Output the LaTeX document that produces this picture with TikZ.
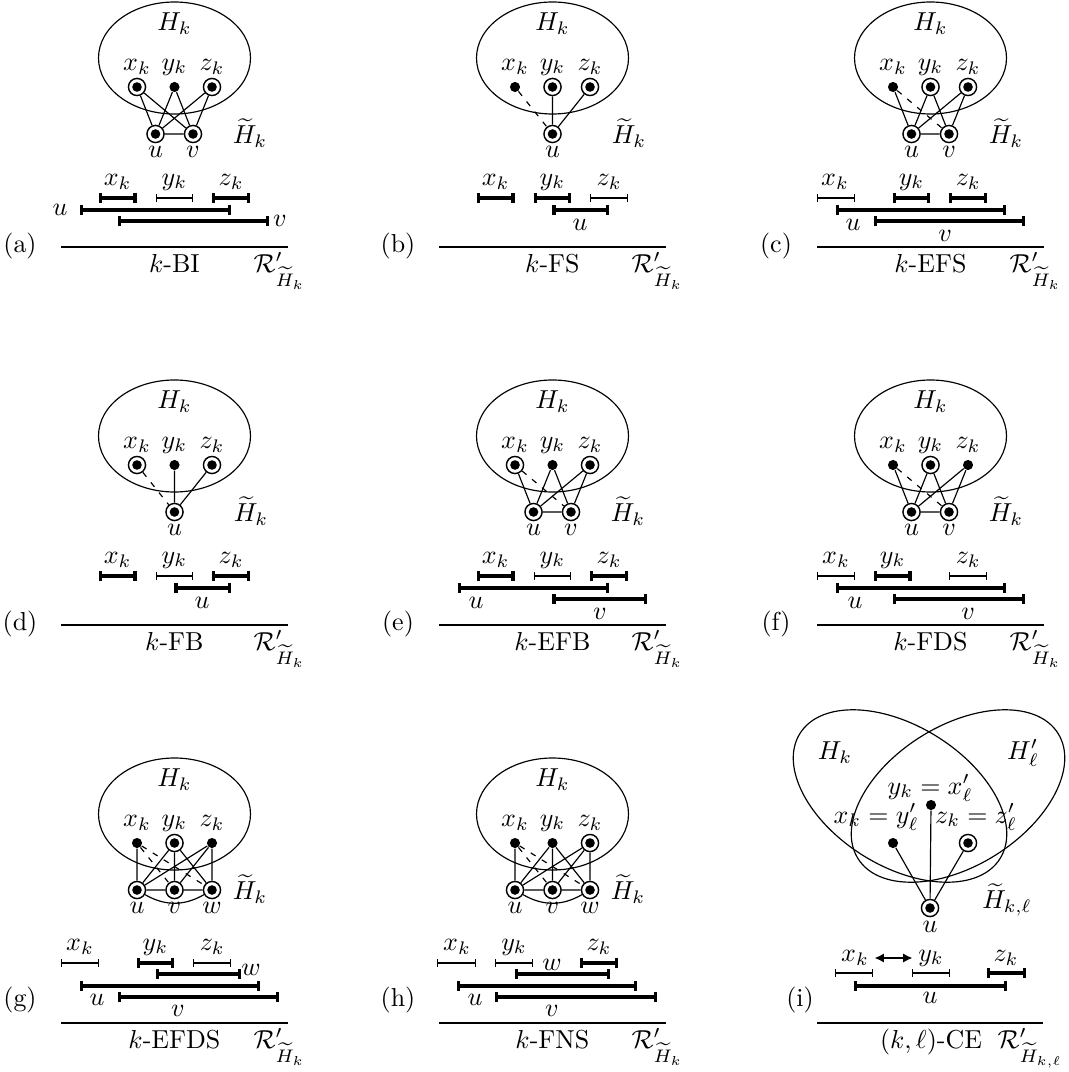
\documentclass[tikz,border=0pt]{standalone}
\usetikzlibrary{arrows.meta}
\begin{document}
\begin{tikzpicture}[x=0.385pt,y=-0.385pt,
  every node/.style={inner sep=0pt},
  pv/.style={circle,fill=black,minimum size=3.9pt},
  rv/.style={circle,draw,fill=white,line width=0.55pt,minimum size=6.6pt,
    path picture={\fill[black] (path picture bounding box.center) circle (1.85pt);}},
  ell/.style={line width=0.45pt},
  ed/.style={line width=0.45pt},
  opt/.style={line width=0.45pt,dash pattern=on 2.2pt off 2.8pt},
  thk/.style={line width=1.2pt,arrows={Bar[width=4pt]-Bar[width=4pt]}},
  thn/.style={line width=0.4pt,arrows={Bar[width=2.8pt]-Bar[width=2.8pt]}},
  rline/.style={line width=0.45pt},
]
\useasboundingbox (0,0) rectangle (1068,1072);

% ================= (a) k-BI =================
\begin{scope}
 \draw[ell] (174.5,58) ellipse [x radius=76, y radius=56];
 \node (aH) at (174.5,24) {$H_k$};
 \node (axl) at (137,67) {$x_k$};
 \node (ayl) at (174.5,67) {$y_k$};
 \node (azl) at (212,67) {$z_k$};
 \node[rv] (ax) at (137,87) {};
 \node[pv] (ay) at (174.5,87) {};
 \node[rv] (az) at (212,87) {};
 \node[rv] (au) at (155.5,134) {};
 \node[rv] (av) at (193,134) {};
 \node (aul) at (155.5,152) {$u$};
 \node (avl) at (193,152) {$v$};
 \node (aHt) at (250,133) {$\widetilde{H}_k$};
 \draw[ed] (ax)--(au) (ax)--(av) (ay)--(au) (ay)--(av) (az)--(au) (az)--(av) (au)--(av);
 \node (aix) at (117.7,182) {$x_k$};
 \node (aiy) at (174.4,182) {$y_k$};
 \node (aiz) at (231.1,182) {$z_k$};
 \draw[thk] (98.8,198) -- (136.6,198);
 \draw[thn] (155.5,198) -- (193.3,198);
 \draw[thk] (212.2,198) -- (250,198);
 \draw[thk] (80,210) -- (231.1,210);
 \draw[thk] (117.7,221) -- (268.9,221);
 \node (aiu) at (60,210) {$u$};
 \node (aiv) at (280,221) {$v$};
 \draw[rline] (61,247) -- (287.8,247);
 \node[anchor=base] (acap) at (174.4,272) {$k$-BI};
 \node[anchor=base west] (aR) at (253,272) {$\mathcal{R}'_{\widetilde{H}_k}$};
 \node (alab) at (20,246) {(a)};
\end{scope}

% ================= (b) k-FS =================
\begin{scope}[shift={(378,0)}]
 \draw[ell] (174.5,58) ellipse [x radius=76, y radius=56];
 \node (bH) at (174.5,24) {$H_k$};
 \node (bxl) at (137,67) {$x_k$};
 \node (byl) at (174.5,67) {$y_k$};
 \node (bzl) at (212,67) {$z_k$};
 \node[pv] (bx) at (137,87) {};
 \node[rv] (by) at (174.5,87) {};
 \node[rv] (bz) at (212,87) {};
 \node[rv] (bu) at (174.5,134) {};
 \node (bul) at (174.5,152) {$u$};
 \node (bHt) at (251,133) {$\widetilde{H}_k$};
 \draw[opt] (bx)--(bu);
 \draw[ed] (by)--(bu) (bz)--(bu);
 \node (bix) at (117.7,182) {$x_k$};
 \node (biy) at (174.4,182) {$y_k$};
 \node (biz) at (231.1,182) {$z_k$};
 \draw[thk] (98.8,198) -- (136.6,198);
 \draw[thk] (155.5,198) -- (193.3,198);
 \draw[thn] (212.2,198) -- (250,198);
 \draw[thk] (174.4,210) -- (231.1,210);
 \node (biu) at (202,225) {$u$};
 \draw[rline] (61,247) -- (287.8,247);
 \node[anchor=base] (bcap) at (174.4,272) {$k$-FS};
 \node[anchor=base west] (bR) at (253,272) {$\mathcal{R}'_{\widetilde{H}_k}$};
 \node (blab) at (20,246) {(b)};
\end{scope}

% ================= (c) k-EFS =================
\begin{scope}[shift={(756,0)}]
 \draw[ell] (174.5,58) ellipse [x radius=76, y radius=56];
 \node (cH) at (174.5,24) {$H_k$};
 \node (cxl) at (137,67) {$x_k$};
 \node (cyl) at (174.5,67) {$y_k$};
 \node (czl) at (212,67) {$z_k$};
 \node[pv] (cx) at (137,87) {};
 \node[rv] (cy) at (174.5,87) {};
 \node[rv] (cz) at (212,87) {};
 \node[rv] (cu) at (155.5,134) {};
 \node[rv] (cv) at (193,134) {};
 \node (cul) at (155.5,152) {$u$};
 \node (cvl) at (193,152) {$v$};
 \node (cHt) at (250,133) {$\widetilde{H}_k$};
 \draw[ed] (cx)--(cu) (cy)--(cu) (cy)--(cv) (cz)--(cu) (cz)--(cv) (cu)--(cv);
 \draw[opt] (cx)--(cv);
 \node (cix) at (79,182) {$x_k$};
 \node (ciy) at (155.5,182) {$y_k$};
 \node (ciz) at (212.2,182) {$z_k$};
 \draw[thn] (61,198) -- (98.8,198);
 \draw[thk] (136.6,198) -- (174.4,198);
 \draw[thk] (193.3,198) -- (231.1,198);
 \draw[thk] (80,210) -- (250,210);
 \draw[thk] (117.7,221) -- (268.9,221);
 \node (ciu) at (97,225) {$u$};
 \node (civ) at (189,236) {$v$};
 \draw[rline] (61,247) -- (287.8,247);
 \node[anchor=base] (ccap) at (174.4,272) {$k$-EFS};
 \node[anchor=base west] (cR) at (253,272) {$\mathcal{R}'_{\widetilde{H}_k}$};
 \node (clab) at (20,246) {(c)};
\end{scope}

% ================= (d) k-FB =================
\begin{scope}[shift={(0,378)}]
 \draw[ell] (174.5,58) ellipse [x radius=76, y radius=56];
 \node (dH) at (174.5,24) {$H_k$};
 \node (dxl) at (137,67) {$x_k$};
 \node (dyl) at (174.5,67) {$y_k$};
 \node (dzl) at (212,67) {$z_k$};
 \node[rv] (dx) at (137,87) {};
 \node[pv] (dy) at (174.5,87) {};
 \node[rv] (dz) at (212,87) {};
 \node[rv] (du) at (174.5,134) {};
 \node (dul) at (174.5,152) {$u$};
 \node (dHt) at (251,133) {$\widetilde{H}_k$};
 \draw[opt] (dx)--(du);
 \draw[ed] (dy)--(du) (dz)--(du);
 \node (dix) at (117.7,182) {$x_k$};
 \node (diy) at (174.4,182) {$y_k$};
 \node (diz) at (231.1,182) {$z_k$};
 \draw[thk] (98.8,198) -- (136.6,198);
 \draw[thn] (155.5,198) -- (193.3,198);
 \draw[thk] (212.2,198) -- (250,198);
 \draw[thk] (174.4,210) -- (231.1,210);
 \node (diu) at (202,225) {$u$};
 \draw[rline] (61,247) -- (287.8,247);
 \node[anchor=base] (dcap) at (174.4,272) {$k$-FB};
 \node[anchor=base west] (dR) at (253,272) {$\mathcal{R}'_{\widetilde{H}_k}$};
 \node (dlab) at (20,246) {(d)};
\end{scope}

% ================= (e) k-EFB =================
\begin{scope}[shift={(378,378)}]
 \draw[ell] (174.5,58) ellipse [x radius=76, y radius=56];
 \node (eH) at (174.5,24) {$H_k$};
 \node (exl) at (137,67) {$x_k$};
 \node (eyl) at (174.5,67) {$y_k$};
 \node (ezl) at (212,67) {$z_k$};
 \node[rv] (ex) at (137,87) {};
 \node[pv] (ey) at (174.5,87) {};
 \node[rv] (ez) at (212,87) {};
 \node[rv] (eu) at (155.5,134) {};
 \node[rv] (ev) at (193,134) {};
 \node (eul) at (155.5,152) {$u$};
 \node (evl) at (193,152) {$v$};
 \node (eHt) at (250,133) {$\widetilde{H}_k$};
 \draw[ed] (ex)--(eu) (ey)--(eu) (ey)--(ev) (ez)--(eu) (ez)--(ev) (eu)--(ev);
 \draw[opt] (ex)--(ev);
 \node (eix) at (117.7,182) {$x_k$};
 \node (eiy) at (174.4,182) {$y_k$};
 \node (eiz) at (231.1,182) {$z_k$};
 \draw[thk] (98.8,198) -- (136.6,198);
 \draw[thn] (155.5,198) -- (193.3,198);
 \draw[thk] (212.2,198) -- (250,198);
 \draw[thk] (80,210) -- (231.1,210);
 \draw[thk] (174.4,221) -- (268.9,221);
 \node (eiu) at (98,225) {$u$};
 \node (eiv) at (222,236) {$v$};
 \draw[rline] (61,247) -- (287.8,247);
 \node[anchor=base] (ecap) at (174.4,272) {$k$-EFB};
 \node[anchor=base west] (eR) at (253,272) {$\mathcal{R}'_{\widetilde{H}_k}$};
 \node (elab) at (20,246) {(e)};
\end{scope}

% ================= (f) k-FDS =================
\begin{scope}[shift={(756,378)}]
 \draw[ell] (174.5,58) ellipse [x radius=76, y radius=56];
 \node (fH) at (174.5,24) {$H_k$};
 \node (fxl) at (137,67) {$x_k$};
 \node (fyl) at (174.5,67) {$y_k$};
 \node (fzl) at (212,67) {$z_k$};
 \node[pv] (fx) at (137,87) {};
 \node[rv] (fy) at (174.5,87) {};
 \node[pv] (fz) at (212,87) {};
 \node[rv] (fu) at (155.5,134) {};
 \node[rv] (fv) at (193,134) {};
 \node (ful) at (155.5,152) {$u$};
 \node (fvl) at (193,152) {$v$};
 \node (fHt) at (250,133) {$\widetilde{H}_k$};
 \draw[ed] (fx)--(fu) (fy)--(fu) (fy)--(fv) (fz)--(fu) (fz)--(fv) (fu)--(fv);
 \draw[opt] (fx)--(fv);
 \node (fix) at (80,182) {$x_k$};
 \node (fiy) at (136.6,182) {$y_k$};
 \node (fiz) at (212.2,182) {$z_k$};
 \draw[thn] (61,198) -- (98.8,198);
 \draw[thk] (117.7,198) -- (155.5,198);
 \draw[thn] (193.3,198) -- (231.1,198);
 \draw[thk] (80,210) -- (250,210);
 \draw[thk] (136.6,221) -- (268.9,221);
 \node (fiu) at (99,225) {$u$};
 \node (fiv) at (212,236) {$v$};
 \draw[rline] (61,247) -- (287.8,247);
 \node[anchor=base] (fcap) at (174.4,272) {$k$-FDS};
 \node[anchor=base west] (fR) at (253,272) {$\mathcal{R}'_{\widetilde{H}_k}$};
 \node (flab) at (20,246) {(f)};
\end{scope}

% ================= (g) k-EFDS =================
\begin{scope}[shift={(0,756)}]
 \draw[ell] (174.5,58) ellipse [x radius=76, y radius=56];
 \node (gH) at (174.5,24) {$H_k$};
 \node (gxl) at (137,67) {$x_k$};
 \node (gyl) at (174.5,67) {$y_k$};
 \node (gzl) at (212,67) {$z_k$};
 \node[pv] (gx) at (137,87) {};
 \node[rv] (gy) at (174.5,87) {};
 \node[pv] (gz) at (212,87) {};
 \node[rv] (gu) at (137,134) {};
 \node[rv] (gv) at (174.5,134) {};
 \node[rv] (gw) at (212,134) {};
 \node (gul) at (137,152) {$u$};
 \node (gvl) at (174.5,152) {$v$};
 \node (gwl) at (212,152) {$w$};
 \node (gHt) at (250,133) {$\widetilde{H}_k$};
 \draw[ed] (gx)--(gu) (gy)--(gu) (gy)--(gv) (gy)--(gw) (gz)--(gu) (gz)--(gv) (gz)--(gw) (gu)--(gv) (gv)--(gw);
 \draw[ed] (gu) to[bend right=30] (gw);
 \draw[opt] (gx)--(gv) (gx)--(gw);
 \node (gix) at (80,191) {$x_k$};
 \node (giy) at (155.5,191) {$y_k$};
 \node (giz) at (212.2,191) {$z_k$};
 \draw[thn] (61,207) -- (98.8,207);
 \draw[thk] (136.6,207) -- (174.4,207);
 \draw[thn] (193.3,207) -- (231.1,207);
 \draw[thk] (155.5,218) -- (241,218);
 \node (giw) at (251,214) {$w$};
 \draw[thk] (80,230) -- (260,230);
 \draw[thk] (117.7,241) -- (279,241);
 \node (giu) at (97,244) {$u$};
 \node (giv) at (178,255) {$v$};
 \draw[rline] (61,267) -- (287.8,267);
 \node[anchor=base] (gcap) at (174.4,292) {$k$-EFDS};
 \node[anchor=base west] (gR) at (253,292) {$\mathcal{R}'_{\widetilde{H}_k}$};
 \node (glab) at (20,244) {(g)};
\end{scope}

% ================= (h) k-FNS =================
\begin{scope}[shift={(378,756)}]
 \draw[ell] (174.5,58) ellipse [x radius=76, y radius=56];
 \node (hH) at (174.5,24) {$H_k$};
 \node (hxl) at (137,67) {$x_k$};
 \node (hyl) at (174.5,67) {$y_k$};
 \node (hzl) at (212,67) {$z_k$};
 \node[pv] (hx) at (137,87) {};
 \node[pv] (hy) at (174.5,87) {};
 \node[rv] (hz) at (212,87) {};
 \node[rv] (hu) at (137,134) {};
 \node[rv] (hv) at (174.5,134) {};
 \node[rv] (hw) at (212,134) {};
 \node (hul) at (137,152) {$u$};
 \node (hvl) at (174.5,152) {$v$};
 \node (hwl) at (212,152) {$w$};
 \node (hHt) at (250,133) {$\widetilde{H}_k$};
 \draw[ed] (hx)--(hu) (hy)--(hu) (hy)--(hv) (hy)--(hw) (hz)--(hu) (hz)--(hv) (hz)--(hw) (hu)--(hv) (hv)--(hw);
 \draw[ed] (hu) to[bend right=30] (hw);
 \draw[opt] (hx)--(hv) (hx)--(hw);
 \node (hix) at (79,191) {$x_k$};
 \node (hiy) at (136,191) {$y_k$};
 \node (hiz) at (221,191) {$z_k$};
 \draw[thn] (59,207) -- (98,207);
 \draw[thn] (117,207) -- (155,207);
 \draw[thk] (202,207) -- (240,207);
 \node (hiw) at (174,209) {$w$};
 \draw[thk] (137,218) -- (232,218);
 \draw[thk] (79,230) -- (259,230);
 \draw[thk] (117,241) -- (279,241);
 \node (hiu) at (97,244) {$u$};
 \node (hiv) at (174,255) {$v$};
 \draw[rline] (61,267) -- (287.8,267);
 \node[anchor=base] (hcap) at (174.4,292) {$k$-FNS};
 \node[anchor=base west] (hR) at (253,292) {$\mathcal{R}'_{\widetilde{H}_k}$};
 \node (hlab) at (20,244) {(h)};
\end{scope}

% ================= (i) (k,l)-CE =================
\draw[ell, rotate around={-32:(900,796)}] (900,796) ellipse [x radius=118, y radius=70];
\draw[ell, rotate around={32:(958,796)}] (958,796) ellipse [x radius=118, y radius=70];
\node (iH) at (835,753) {$H_k$};
\node (iHp) at (1023,753) {$H'_\ell$};
\node (iyl) at (930,788) {$y_k = x'_\ell$};
\node (ixl) at (876,817) {$x_k = y'_\ell$};
\node (izl) at (976,817) {$z_k = z'_\ell$};
\node[pv] (iy) at (931,805) {};
\node[pv] (ix) at (893,843) {};
\node[rv] (iz) at (968,843) {};
\node[rv] (iu) at (930,908) {};
\node (iul) at (930,927) {$u$};
\node (iHt) at (1007,900) {$\widetilde{H}_{k,\ell}$};
\draw[ed] (ix)--(iu) (iy)--(iu) (iz)--(iu);
\node (iix) at (855,958) {$x_k$};
\node (iiy) at (931,958) {$y_k$};
\node (iiz) at (1006,958) {$z_k$};
\draw[line width=0.8pt,shorten <=2pt,shorten >=2pt,
  arrows={Latex[length=3.6pt,width=3.6pt]-Latex[length=3.6pt,width=3.6pt]}] (iix.east) -- (iiy.west);
\draw[thn] (835,973) -- (873,973);
\draw[thn] (912,973) -- (950,973);
\draw[thk] (987,973) -- (1026,973);
\draw[thk] (854,986) -- (1007,986);
\node (iiu) at (930,998) {$u$};
\draw[rline] (817,1023) -- (1043,1023);
\node[anchor=base] (icap) at (931,1048) {$(k,\ell)$-CE};
\node[anchor=base west] (iR) at (997,1048) {$\mathcal{R}'_{\widetilde{H}_{k,\ell}}$};
\node (ilab) at (800,1000) {(i)};
\end{tikzpicture}
\end{document}
